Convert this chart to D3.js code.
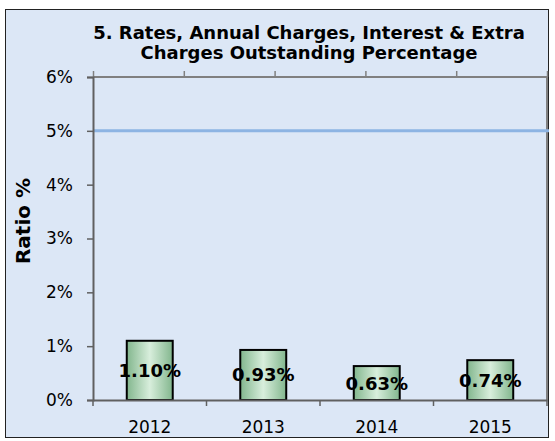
<!DOCTYPE html>
<html>
<head>
<meta charset="utf-8">
<script src="https://cdn.jsdelivr.net/npm/d3@7"></script>
<style>
  body { margin: 0; background: #fff; }
  svg text { font-family: "DejaVu Sans", Verdana, sans-serif; fill: #000; }
</style>
</head>
<body>
<svg id="chart" width="555" height="441"></svg>
<script>
// chart data
const years = ["2012", "2013", "2014", "2015"];
const ratios = [1.10, 0.93, 0.63, 0.74];
const targetLine = [5];
const yTicks = [0, 1, 2, 3, 4, 5, 6];
const titleLines = ["5. Rates, Annual Charges, Interest & Extra", "Charges Outstanding Percentage"];

const svg = d3.select("#chart");
const margin = { left: 93, right: 547, top: 77, bottom: 400 };

// outer frame with light blue fill
svg.append("rect")
    .attr("x", 5.5).attr("y", 9.5)
    .attr("width", 543).attr("height", 428)
    .attr("fill", "#dce7f6")
    .attr("stroke", "#222")
    .attr("stroke-width", 1);

const defs = svg.append("defs");
const grad = defs.append("linearGradient")
    .attr("id", "barGrad")
    .attr("x1", "0%").attr("x2", "100%").attr("y1", "0%").attr("y2", "0%");
grad.append("stop").attr("offset", "0%").attr("stop-color", "#82b68d");
grad.append("stop").attr("offset", "50%").attr("stop-color", "#d8eedc");
grad.append("stop").attr("offset", "100%").attr("stop-color", "#82b68d");

const x = d3.scaleBand().domain(years).range([margin.left, margin.right]).padding(0);
const y = d3.scaleLinear().domain([0, 6]).range([margin.bottom, margin.top]);

// title
svg.append("text")
    .attr("x", 309).attr("y", 39)
    .attr("text-anchor", "middle")
    .style("font-size", "18px").style("font-weight", "bold")
    .selectAll("tspan")
    .data(titleLines)
    .enter().append("tspan")
    .attr("x", 309)
    .attr("dy", (d, i) => i === 0 ? 0 : 20)
    .text(d => d);

// y axis title
svg.append("text")
    .attr("transform", "translate(30,221) rotate(-90)")
    .attr("text-anchor", "middle")
    .style("font-size", "20px").style("font-weight", "bold")
    .text("Ratio %");

// plot frame: top and right borders
svg.append("path")
    .attr("d", `M${margin.left},${margin.top}H${margin.right}V${margin.bottom}`)
    .attr("fill", "none")
    .attr("stroke", "#808080")
    .attr("stroke-width", 2);

// top ticks (secondary axis, 5 divisions)
const topX = d3.scaleLinear().domain([0, 5]).range([margin.left, margin.right]);
svg.append("g")
    .attr("transform", `translate(0,${margin.top})`)
    .call(d3.axisTop(topX).ticks(5).tickSize(6).tickFormat(""))
    .call(g => g.select(".domain").remove())
    .call(g => g.selectAll("line").attr("stroke", "#808080").attr("stroke-width", 1.5));

// target line at 5%
svg.selectAll(".target")
    .data(targetLine)
    .enter().append("line")
    .attr("class", "target")
    .attr("x1", margin.left).attr("x2", margin.right + 2)
    .attr("y1", d => y(d)).attr("y2", d => y(d))
    .attr("stroke", "#8db4e3")
    .attr("stroke-width", 3);

// bars
const barW = x.bandwidth() * 0.405;
svg.selectAll(".bar")
    .data(ratios)
    .enter().append("rect")
    .attr("class", "bar")
    .attr("x", (d, i) => x(years[i]) + x.bandwidth() / 2 - barW / 2)
    .attr("y", d => y(d))
    .attr("width", barW)
    .attr("height", d => y(0) - y(d))
    .attr("fill", "url(#barGrad)")
    .attr("stroke", "#000")
    .attr("stroke-width", 2);

// y axis
svg.append("g")
    .attr("transform", `translate(${margin.left},0)`)
    .call(d3.axisLeft(y).tickValues(yTicks).tickSize(6).tickPadding(14).tickFormat(d => d + "%"))
    .call(g => g.select(".domain").attr("stroke", "#606060").attr("stroke-width", 2))
    .call(g => g.selectAll("line").attr("stroke", "#606060").attr("stroke-width", 1.5))
    .call(g => g.selectAll("text").style("font-size", "17px").attr("font-family", null));

// x axis with ticks at category boundaries
svg.append("g")
    .attr("transform", `translate(0,${margin.bottom})`)
    .call(d3.axisBottom(x).tickSize(0).tickPadding(21))
    .call(g => g.select(".domain").attr("stroke", "#606060").attr("stroke-width", 2))
    .call(g => g.selectAll("text").style("font-size", "17px").attr("font-family", null));

svg.append("g")
    .selectAll("line")
    .data(d3.range(years.length + 1))
    .enter().append("line")
    .attr("x1", i => margin.left + i * x.step())
    .attr("x2", i => margin.left + i * x.step())
    .attr("y1", margin.bottom).attr("y2", margin.bottom + 6)
    .attr("stroke", "#606060").attr("stroke-width", 1.5);

// value labels centred in the bars
svg.selectAll(".label")
    .data(ratios)
    .enter().append("text")
    .attr("class", "label")
    .attr("x", (d, i) => x(years[i]) + x.bandwidth() / 2)
    .attr("y", d => (y(d) + y(0)) / 2)
    .attr("dy", "0.36em")
    .attr("text-anchor", "middle")
    .style("font-size", "18px").style("font-weight", "bold")
    .text(d => d.toFixed(2) + "%");
</script>
</body>
</html>
